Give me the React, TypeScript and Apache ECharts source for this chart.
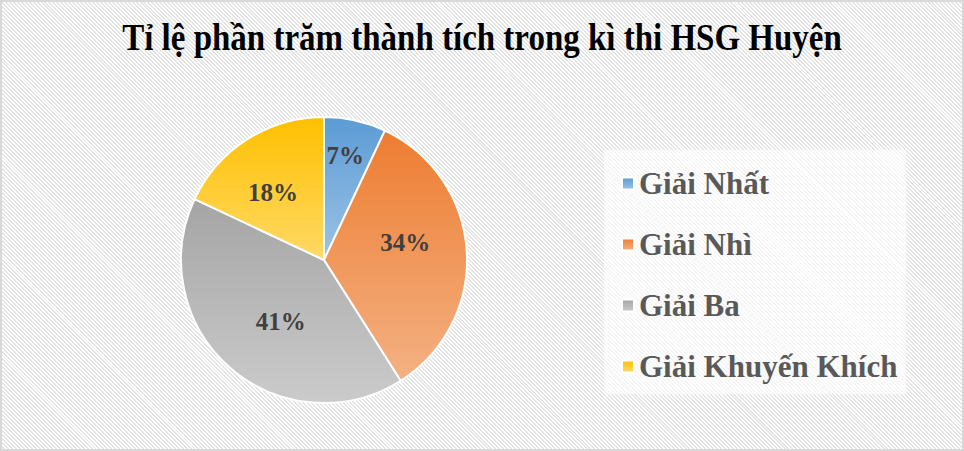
import React, { useEffect, useRef } from "react";
import * as echarts from "echarts";

const categories = ["Giải Nhất", "Giải Nhì", "Giải Ba", "Giải Khuyến Khích"];
const values = [7, 34, 41, 18];
const topColors = ["#5b9bd5", "#ed7d31", "#a5a5a5", "#ffc000"];
const bottomColors = ["#9dc3e6", "#f4b183", "#cbcbcb", "#ffd966"];
const labelOffsets = [[5, -32], [7, -13], [6, 6], [-11, -5]];
const titleText = "Tỉ lệ phần trăm thành tích trong kì thi HSG Huyện";

const FONT = "'Liberation Serif', 'Times New Roman', serif";

export default function App() {
  const ref = useRef<HTMLDivElement>(null);
  useEffect(() => {
    document.body.style.margin = "0";
    if (!ref.current) return;
    const chart = echarts.init(ref.current, null, { renderer: "svg" });
    chart.setOption({
      animation: false,
      backgroundColor: "transparent",
      graphic: [
        {
          type: "rect",
          shape: { x: 604, y: 150, width: 302, height: 244 },
          style: { fill: "rgba(255,255,255,0.65)" },
          z: -1,
        },
        {
          type: "rect",
          shape: { x: 1, y: 1, width: 962, height: 449 },
          style: { fill: "none", stroke: "#d9d9d9", lineWidth: 2 },
          z: -1,
        },
        {
          type: "text",
          x: 482,
          y: 38,
          scaleY: 1.12,
          style: {
            text: titleText,
            fontFamily: FONT,
            fontSize: 33,
            fontWeight: "bold",
            fill: "#000",
            textAlign: "center",
            textVerticalAlign: "middle",
          },
        },
      ],
      legend: {
        orient: "vertical",
        left: 616,
        top: 163,
        itemWidth: 12,
        itemHeight: 12,
        itemGap: 30,
        icon: "rect",
        textStyle: { fontFamily: FONT, fontSize: 31, fontWeight: "bold", color: "#595959", lineHeight: 30 },
        data: categories,
      },
      series: [
        {
          type: "pie",
          center: [324, 260],
          radius: 143,
          startAngle: 90,
          clockwise: true,
          itemStyle: { borderColor: "#fff", borderWidth: 2 },
          label: {
            show: true,
            position: "inside",
            formatter: "{c}%",
            fontFamily: FONT,
            fontSize: 25,
            fontWeight: "bold",
            color: "#404040",
          },
          labelLine: { show: false },
          emphasis: { disabled: true },
          data: categories.map((name, i) => ({
            name,
            value: values[i],
            itemStyle: {
              color: new echarts.graphic.LinearGradient(0, 0, 0, 1, [
                { offset: 0, color: topColors[i] },
                { offset: 1, color: bottomColors[i] },
              ]),
            },
            label: { offset: labelOffsets[i] },
          })),
        },
      ],
    });
    return () => chart.dispose();
  }, []);
  return (
    <div
      ref={ref}
      style={{
        width: 964,
        height: 451,
        background:
          "repeating-linear-gradient(45deg, #ffffff 0px, #ffffff 1.4px, #e4e4e4 1.4px, #e4e4e4 2.8px)",
      }}
    />
  );
}
